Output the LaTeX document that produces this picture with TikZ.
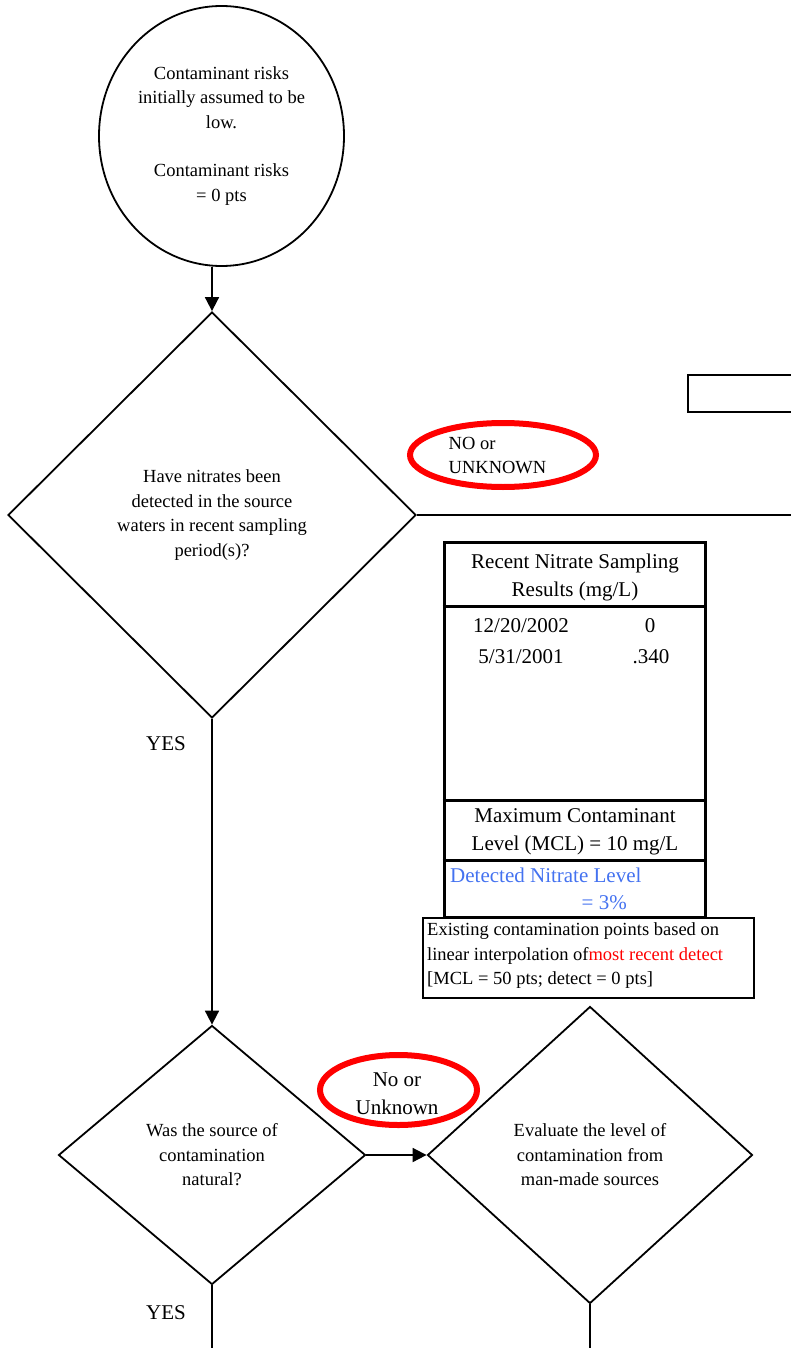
\documentclass[tikz,border=0pt]{standalone}
\usepackage{fontspec}
\setmainfont{Liberation Serif}
\usetikzlibrary{shapes.geometric,arrows.meta}
\definecolor{detblue}{RGB}{68,114,240}
\begin{document}
\begin{tikzpicture}[x=1pt,y=-1pt,
 line/.style={line width=1.8pt},
 arr/.style={line width=1.8pt,-{Triangle[length=14pt,width=14pt]}},
 dia/.style={diamond,draw,line width=1.8pt,inner sep=0pt,align=center,font=\fontsize{18.5}{24.5}\selectfont},
 redell/.style={ellipse,draw=red,line width=6pt,inner sep=0pt},
 txt/.style={inner sep=0pt,font=\fontsize{18.5}{24.5}\selectfont},
 big/.style={inner sep=0pt,font=\fontsize{21}{27.5}\selectfont},
 thickline/.style={line width=3pt},
]
\useasboundingbox (0,0) rectangle (790,1348);

% start circle
\node[ellipse,draw,line width=1.8pt,minimum width=245,minimum height=260,inner sep=0pt,align=center,
  font=\fontsize{18.5}{24.3}\selectfont] (c) at (221.5,136)
  {Contaminant risks\\initially assumed to be\\low.\\[24.3pt]Contaminant risks\\= 0 pts};

% first decision
\node[dia,minimum width=408,minimum height=406] (d1) at (212,515)
  {Have nitrates been\\detected in the source\\waters in recent sampling\\period(s)?};

\draw[arr] (d1.north |- c.south) -- (d1.north);

% NO or UNKNOWN
\node[redell,minimum width=186,minimum height=64] (e1) at (503,455) {};
\node[txt,align=left] (e1t) at (497.5,455.5) {NO or\\UNKNOWN};

\coordinate (r1) at (d1.east -| 793,0);
\draw[line] (d1.east) -- (r1);

% small box at top right
\node[draw,line width=1.8pt,minimum width=112,minimum height=37,inner sep=0pt] (sb) at (744,393.5) {};

% table
\node[draw,thickline,minimum width=261,minimum height=375,inner sep=0pt] (tab) at (574.5,729.5) {};
\draw[thickline] (tab.west |- 0,606) -- (tab.east |- 0,606);
\draw[thickline] (tab.west |- 0,800) -- (tab.east |- 0,800);
\draw[thickline] (tab.west |- 0,860) -- (tab.east |- 0,860);
\node[big,align=center] (th) at (575,577.5) {Recent Nitrate Sampling\\Results (mg/L)};
\node[big] (d1a) at (521,626) {12/20/2002};
\node[big] (v1a) at (650,626) {0};
\node[big] (d2a) at (521,657) {5/31/2001};
\node[big] (v2a) at (651,657) {.340};
\node[big,align=center] (mcl) at (575,832) {Maximum Contaminant\\Level (MCL) = 10 mg/L};
\node[big,anchor=west,text=detblue] (det) at (450,875) {Detected Nitrate Level};
\node[big,anchor=east,text=detblue] (pct) at (627,903) {=\ 3\%};

% existing contamination box
\node[draw,line width=1.3pt,minimum width=331,minimum height=80,inner sep=0pt] (ex) at (588.5,958) {};
\node[txt,anchor=west,align=left] (ext) at (427,956)
  {Existing contamination points based on\\linear interpolation of\textcolor{red}{most recent detect}\\{}[MCL = 50 pts; detect = 0 pts]};

\node[big] (yes1) at (166,744) {YES};

% second decision
\node[dia,minimum width=307,minimum height=259] (d2) at (212,1155)
  {Was the source of\\contamination\\natural?};
\draw[arr] (d1.south) -- (d2.north);

\node[dia,minimum width=325,minimum height=297] (d3) at (590,1155)
  {Evaluate the level of\\contamination from\\man-made sources};
\draw[arr] (d2.east) -- (d3.west);

\node[redell,minimum width=157,minimum height=70] (e2) at (398.5,1090) {};
\node[big,align=center,font=\fontsize{21}{28}\selectfont] (e2t) at (397,1094) {No or\\Unknown};

\node[big] (yes2) at (166,1313) {YES};

\coordinate (b1) at (d2.south |- 0,1350);
\coordinate (b2) at (d3.south |- 0,1350);
\draw[line] (d2.south) -- (b1);
\draw[line] (d3.south) -- (b2);
\end{tikzpicture}
\end{document}
